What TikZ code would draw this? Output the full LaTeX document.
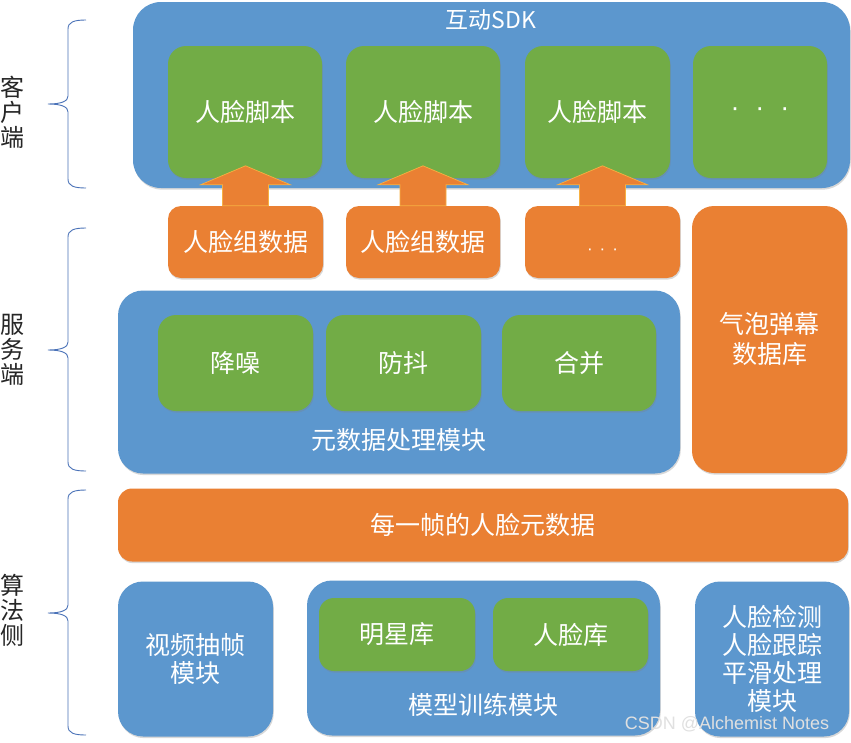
\documentclass[tikz,border=0pt]{standalone}
\usepackage{fontspec}
\setmainfont{Noto Sans CJK SC}
\newfontfamily\wmfont{Liberation Sans}
\usetikzlibrary{shadows,calc}
\definecolor{cblue}{RGB}{92,151,206}
\definecolor{cgreen}{RGB}{114,172,70}
\definecolor{corange}{RGB}{234,128,51}
\definecolor{cbrace}{RGB}{74,114,184}
\definecolor{cedge}{RGB}{247,176,66}
\newcommand\mybrace[3]{%
  \draw[brace] (86,#1) .. controls (74,#1) and (68,#1+2) .. (68,#1+9) -- (68,#3-8)
    .. controls (68,#3-3) and (62,#3) .. (48,#3)
    .. controls (62,#3) and (68,#3+3) .. (68,#3+8) -- (68,#2-9)
    .. controls (68,#2-2) and (74,#2) .. (86,#2);}
\begin{document}
\begin{tikzpicture}[x=1pt,y=-1pt,
  box/.style={rectangle, inner sep=0pt, drop shadow={shadow xshift=0.8pt, shadow yshift=-1.6pt, opacity=0.3}},
  bluebox/.style={box, fill=cblue, rounded corners=25pt},
  greenbox/.style={box, fill=cgreen, rounded corners=18pt},
  orangebox/.style={box, fill=corange, rounded corners=13pt},
  wtxt/.style={text=white, font=\fontsize{25}{28}\selectfont, align=center, inner sep=0pt},
  side/.style={font=\fontsize{24}{25}\selectfont, align=center, inner sep=0pt, text=black!85},
  brace/.style={draw=cbrace, line width=0.9pt},
  uparrow/.style={fill=corange, draw=cedge, line width=0.7pt},
]
\useasboundingbox[fill=white] (0,0) rectangle (851,742);

% ---------- client side ----------
\node[bluebox, rounded corners=28pt, minimum width=717pt, minimum height=186pt] (sdk) at (491.5,95) {};
\node[wtxt, font=\fontsize{23}{26}\selectfont] (sdkT) at (491,20) {互动SDK};
\node[greenbox, wtxt, minimum width=154pt, minimum height=132pt] (g1) at (245,112) {人脸脚本};
\node[greenbox, wtxt, minimum width=154pt, minimum height=132pt] (g2) at (423,112) {人脸脚本};
\node[greenbox, wtxt, minimum width=145pt, minimum height=132pt] (g3) at (597.5,112) {人脸脚本};
\node[greenbox, wtxt, minimum width=134pt, minimum height=132pt, font=\wmfont\fontsize{27}{28}\selectfont] (g4) at (760,112) {·\hspace{16pt}·\hspace{16pt}·};

% ---------- server side ----------
\node[orangebox, wtxt, minimum width=155pt, minimum height=72pt] (o1) at (245.5,242) {人脸组数据};
\node[orangebox, wtxt, minimum width=154pt, minimum height=72pt] (o2) at (423,242) {人脸组数据};
\node[orangebox, wtxt, minimum width=155pt, minimum height=72pt, font=\wmfont\fontsize{17}{18}\selectfont] (o3) at (602.5,242) {\raisebox{-12pt}[0pt][0pt]{·\hspace{7pt}·\hspace{7pt}·}};
\node[orangebox, wtxt, rounded corners=22pt, minimum width=155pt, minimum height=267pt, font=\fontsize{25}{30}\selectfont] (qp) at (769.5,339.5) {气泡弹幕\\数据库};

\foreach \o/\g in {o1/g1, o2/g2, o3/g3}{
  \path[uparrow] ($(\o.north)+(-23,0)$) -- ($(\o.north)+(-23,-21)$) -- ($(\o.north)+(-45,-21)$)
    -- ($(\o.north)+(0,-40)$) -- ($(\o.north)+(45,-21)$) -- ($(\o.north)+(23,-21)$)
    -- ($(\o.north)+(23,0)$) -- cycle;
}

\node[bluebox, minimum width=562pt, minimum height=183pt] (meta) at (399,382) {};
\node[wtxt] (metaT) at (399,440) {元数据处理模块};
\node[greenbox, wtxt, minimum width=155pt, minimum height=96pt] (n1) at (235.5,363) {降噪};
\node[greenbox, wtxt, minimum width=155pt, minimum height=96pt] (n2) at (403.5,363) {防抖};
\node[greenbox, wtxt, minimum width=154pt, minimum height=96pt] (n3) at (579,363) {合并};

% ---------- algorithm side ----------
\node[orangebox, wtxt, rounded corners=14pt, minimum width=730pt, minimum height=73pt] (frame) at (483,525) {每一帧的人脸元数据};
\node[bluebox, wtxt, minimum width=155pt, minimum height=155pt] (v) at (195.5,659) {视频抽帧\\模块};
\node[bluebox, minimum width=353pt, minimum height=155pt] (m) at (483.5,658) {};
\node[wtxt] (mT) at (483,705) {模型训练模块};
\node[greenbox, wtxt, rounded corners=15pt, minimum width=156pt, minimum height=73pt] (s1) at (397,634.5) {明星库};
\node[greenbox, wtxt, rounded corners=15pt, minimum width=155pt, minimum height=73pt] (s2) at (570.5,634.5) {人脸库};
\node[bluebox, wtxt, minimum width=154pt, minimum height=155pt] (d) at (772,659) {人脸检测\\人脸跟踪\\平滑处理\\模块};

% ---------- braces and side labels ----------
\mybrace{20}{188}{104}
\mybrace{228}{471}{350}
\mybrace{490}{735}{613}
\node[side] (c1) at (13,112) {客\\户\\端};
\node[side] (c2) at (13,350) {服\\务\\端};
\node[side] (c3) at (13,610) {算\\法\\侧};

\node[font=\wmfont\fontsize{18}{18}\selectfont, text=white!88!black, inner sep=0pt] (wm) at (727,724) {CSDN @Alchemist Notes};
\end{tikzpicture}
\end{document}
